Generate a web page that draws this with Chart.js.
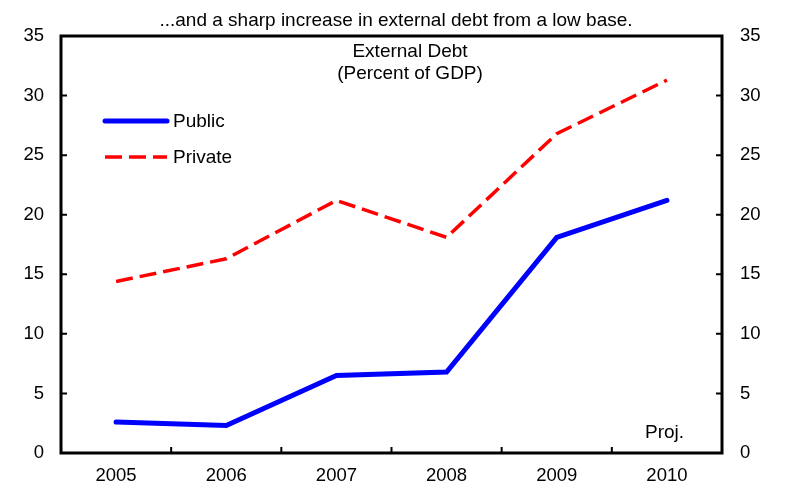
<!DOCTYPE html>
<html>
<head>
<meta charset="utf-8">
<script src="https://cdn.jsdelivr.net/npm/chart.js@4"></script>
<style>
  html, body { margin: 0; padding: 0; background: #fff; }
  #wrap { width: 792px; height: 490px; position: relative; }
</style>
</head>
<body>
<div id="wrap"><canvas id="c" width="792" height="490"></canvas></div>
<script>
const years = ['2005', '2006', '2007', '2008', '2009', '2010'];
const publicDebt = [2.6, 2.3, 6.5, 6.8, 18.1, 21.2];
const privateDebt = [14.4, 16.3, 21.2, 18.1, 26.8, 31.3];
const yTicks = [0, 5, 10, 15, 20, 25, 30, 35];
const titleText = '...and a sharp increase in external debt from a low base.';
const innerTitle = ['External Debt', '(Percent of GDP)'];
const projText = 'Proj.';

const FONT = 'Arial, "Liberation Sans", sans-serif';
const TEXT_SIZE = 19;
const TICK_SIZE = 18.5;

const decor = {
  id: 'decor',
  afterDraw(chart) {
    const ctx = chart.ctx;
    const a = chart.chartArea;
    const x = chart.scales.x, y = chart.scales.y;
    ctx.save();
    // box
    ctx.strokeStyle = '#000';
    ctx.lineWidth = 3;
    ctx.strokeRect(a.left, a.top, a.right - a.left, a.bottom - a.top);
    // inward ticks
    ctx.lineWidth = 2;
    ctx.beginPath();
    yTicks.forEach(v => {
      const py = y.getPixelForValue(v);
      ctx.moveTo(a.left, py); ctx.lineTo(a.left + 6, py);
      ctx.moveTo(a.right, py); ctx.lineTo(a.right - 6, py);
    });
    for (let i = 1; i < years.length; i++) {
      const px = (x.getPixelForValue(i - 1) + x.getPixelForValue(i)) / 2;
      ctx.moveTo(px, a.bottom); ctx.lineTo(px, a.bottom - 6);
    }
    ctx.stroke();
    // inner title
    ctx.fillStyle = '#000';
    ctx.font = TEXT_SIZE + 'px ' + FONT;
    ctx.textAlign = 'center';
    ctx.textBaseline = 'middle';
    ctx.fillText(innerTitle[0], 410, 52);
    ctx.fillText(innerTitle[1], 410, 74);
    // Proj.
    ctx.textAlign = 'left';
    ctx.fillText(projText, 645, 433);
    // legend
    const ds = chart.data.datasets;
    const rows = [121, 157];
    ds.forEach((d, i) => {
      ctx.save();
      ctx.strokeStyle = d.borderColor;
      ctx.lineWidth = d.borderWidth;
      ctx.lineCap = d.borderDash && d.borderDash.length ? 'butt' : 'round';
      ctx.setLineDash(d.borderDash || []);
      ctx.beginPath();
      ctx.moveTo(105, rows[i]);
      ctx.lineTo(167, rows[i]);
      ctx.stroke();
      ctx.restore();
      ctx.fillStyle = '#000';
      ctx.fillText(d.label, 173, rows[i] + 1);
    });
    ctx.restore();
  }
};

new Chart(document.getElementById('c'), {
  type: 'line',
  data: {
    labels: years,
    datasets: [
      { label: 'Public', data: publicDebt, borderColor: '#0000ff', borderWidth: 5,
        pointRadius: 0, borderCapStyle: 'round', tension: 0, yAxisID: 'y' },
      { label: 'Private', data: privateDebt, borderColor: '#ff0000', borderWidth: 3.5,
        borderDash: [17, 7], pointRadius: 0, tension: 0, yAxisID: 'y' }
    ]
  },
  options: {
    responsive: false,
    animation: false,
    events: [],
    layout: { padding: 0 },
    plugins: {
      legend: { display: false },
      tooltip: { enabled: false },
      title: {
        display: true, text: titleText, color: '#000',
        font: { family: FONT, size: TEXT_SIZE, weight: 'normal', lineHeight: 1.2 },
        padding: { top: 9, bottom: 4.2 }
      }
    },
    scales: {
      x: {
        type: 'category', offset: true,
        grid: { display: false, offset: true, drawTicks: false },
        border: { display: false },
        ticks: { color: '#000', font: { family: FONT, size: TICK_SIZE }, padding: 12, maxRotation: 0 },
        afterFit(s) { s.height = 37; }
      },
      y: {
        position: 'left', min: 0, max: 35,
        grid: { display: false, drawTicks: false },
        border: { display: false },
        ticks: { stepSize: 5, color: '#000', font: { family: FONT, size: TICK_SIZE }, padding: 17 },
        afterFit(s) { s.width = 61; }
      },
      y2: {
        position: 'right', min: 0, max: 35,
        grid: { display: false, drawTicks: false },
        border: { display: false },
        ticks: { stepSize: 5, color: '#000', font: { family: FONT, size: TICK_SIZE }, padding: 18 },
        afterFit(s) { s.width = 70; }
      }
    }
  },
  plugins: [decor]
});
</script>
</body>
</html>
